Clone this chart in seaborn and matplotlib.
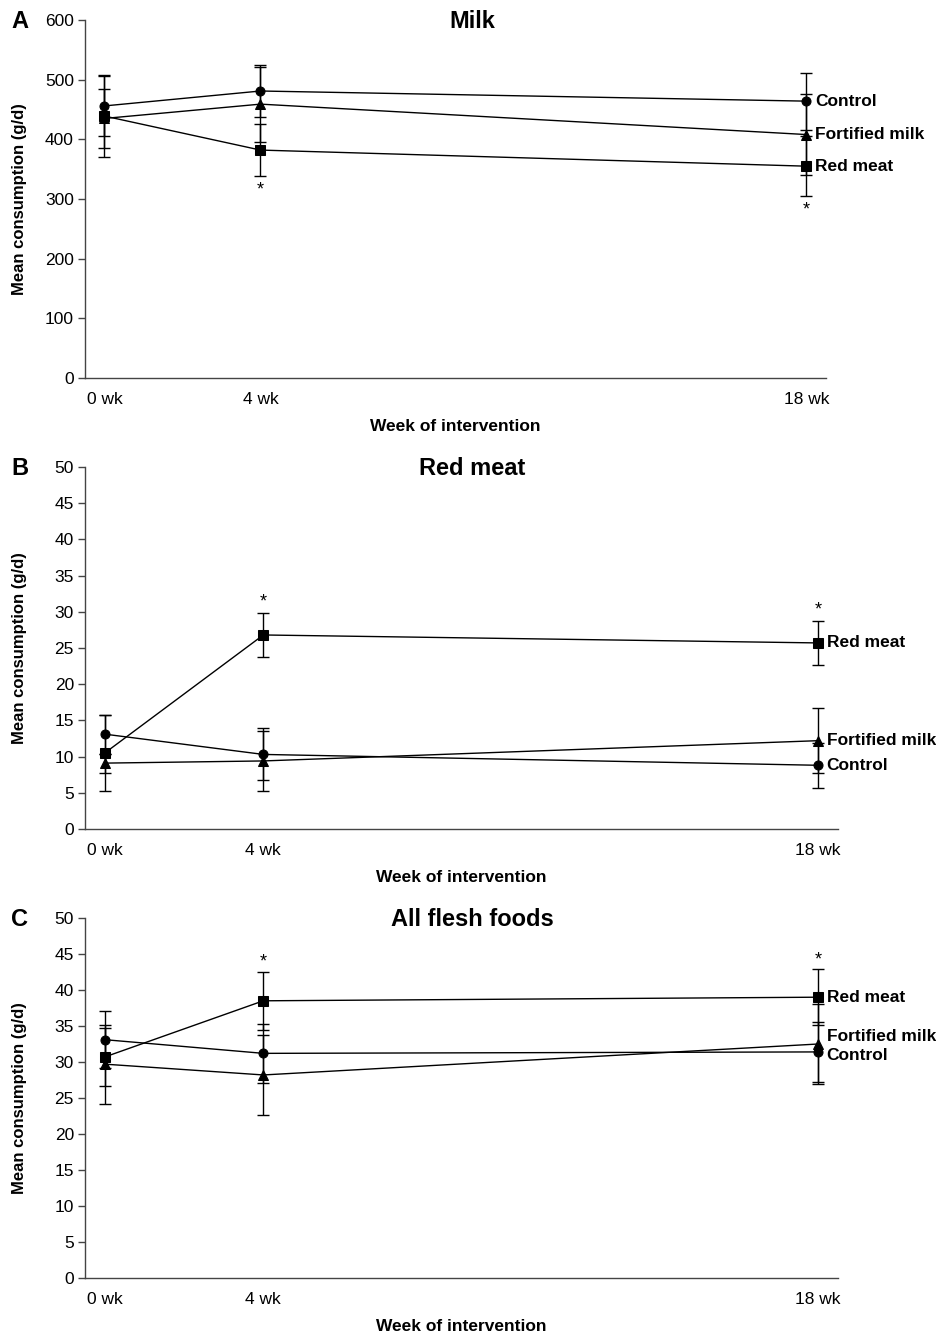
import matplotlib
matplotlib.use("Agg")
import pandas as pd
import matplotlib.pyplot as plt
import seaborn as sns

# weeks of intervention
weeks = [0, 4, 18]
week_labels = ["0 wk", "4 wk", "18 wk"]
groups = ["Control", "Fortified milk", "Red meat"]

# panel A - milk (g/d), mean and error
milk_mean = {"Control": [456, 481, 464], "Fortified milk": [435, 459, 408], "Red meat": [439, 382, 355]}
milk_err = {"Control": [50, 43, 48], "Fortified milk": [50, 63, 68], "Red meat": [68, 43, 50]}
milk_star_weeks = [4, 18]
milk_star_y = [315, 282]

# panel B - red meat (g/d)
meat_mean = {"Control": [13.1, 10.3, 8.8], "Fortified milk": [9.1, 9.4, 12.2], "Red meat": [10.5, 26.8, 25.7]}
meat_err = {"Control": [2.7, 3.6, 3.1], "Fortified milk": [1.3, 4.2, 4.5], "Red meat": [5.3, 3.1, 3.0]}
meat_star_weeks = [4, 18]
meat_star_y = [31.4, 30.2]

# panel C - all flesh foods (g/d)
flesh_mean = {"Control": [33.1, 31.2, 31.4], "Fortified milk": [29.7, 28.2, 32.5], "Red meat": [30.7, 38.5, 39.0]}
flesh_err = {"Control": [4.0, 4.1, 4.2], "Fortified milk": [5.5, 5.6, 5.5], "Red meat": [4.0, 4.0, 3.9]}
flesh_star_weeks = [4, 18]
flesh_star_y = [43.9, 44.2]

sns.set_style("white")
plt.rcParams["font.family"] = ["Liberation Sans", "DejaVu Sans"]
plt.rcParams["text.color"] = "black"
plt.rcParams["axes.labelcolor"] = "black"
plt.rcParams["xtick.color"] = "black"
plt.rcParams["ytick.color"] = "black"

W, H = 937, 1333
fig = plt.figure(figsize=(W / 100, H / 100), dpi=100)

markers = {"Control": "o", "Fortified milk": "^", "Red meat": "s"}


def box(left, right, top, bottom):
    return [left / W, 1 - bottom / H, (right - left) / W, (bottom - top) / H]


def panel(rect, letter, title, means, errs, ymax, ystep, star_w, star_y, label_y):
    ax = fig.add_axes(box(*rect))
    rows = []
    for g in groups:
        for w, m in zip(weeks, means[g]):
            rows.append({"week": w, "mean": m, "group": g})
    df = pd.DataFrame(rows)
    for g in groups:
        ax.errorbar(weeks, means[g], yerr=errs[g], fmt="none", ecolor="black",
                    elinewidth=1, capsize=4, capthick=1, zorder=2)
    sns.lineplot(data=df, x="week", y="mean", style="group", markers=markers,
                 dashes=False, color="black", linewidth=1, markersize=6.5,
                 markeredgecolor="black", legend=False, ax=ax, zorder=3)
    # end labels
    for g in groups:
        ax.annotate(g, (18, label_y[g]), xytext=(6, 0), textcoords="offset points",
                    va="center", ha="left", fontsize=12.5, fontweight="bold",
                    annotation_clip=False)
    for w, y in zip(star_w, star_y):
        ax.text(w, y, "*", ha="center", va="center", fontsize=13)

    ax.set_xlim(-0.5, 18.5)
    ax.set_ylim(0, ymax)
    ax.set_yticks(range(0, ymax + 1, ystep))
    ax.set_xticks(weeks)
    ax.set_xticklabels(week_labels)
    ax.tick_params(axis="x", length=0, pad=10, labelsize=12.5)
    ax.tick_params(axis="y", length=5, width=1, color="#444", direction="out",
                   left=True, pad=3, labelsize=12.5)
    for s in ["top", "right"]:
        ax.spines[s].set_visible(False)
    for s in ["left", "bottom"]:
        ax.spines[s].set_color("#444")
        ax.spines[s].set_linewidth(1)
    ax.set_xlabel("Week of intervention", fontsize=12.5, fontweight="bold", labelpad=9)
    ax.set_ylabel("")
    top = rect[2]
    bottom = rect[3]
    fig.text(472 / W, 1 - (top + 2) / H, title, ha="center", va="center",
             fontsize=17, fontweight="bold")
    fig.text(20 / W, 1 - (top + 2) / H, letter, ha="center", va="center",
             fontsize=17, fontweight="bold")
    fig.text(20 / W, 1 - (top + bottom) / 2 / H, "Mean consumption (g/d)",
             rotation=90, ha="center", va="center", fontsize=12, fontweight="bold")
    return ax


panel((85, 826, 20, 378), "A", "Milk", milk_mean, milk_err, 600, 100,
      milk_star_weeks, milk_star_y,
      {"Control": 464, "Fortified milk": 408, "Red meat": 355})
panel((85, 838, 467, 829), "B", "Red meat", meat_mean, meat_err, 50, 5,
      meat_star_weeks, meat_star_y,
      {"Control": 8.8, "Fortified milk": 12.2, "Red meat": 25.7})
panel((85, 838, 918, 1278), "C", "All flesh foods", flesh_mean, flesh_err, 50, 5,
      flesh_star_weeks, flesh_star_y,
      {"Control": 30.9, "Fortified milk": 33.6, "Red meat": 39.0})

fig.savefig("out.png", dpi=100)
